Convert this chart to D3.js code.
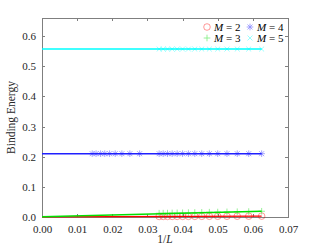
<!DOCTYPE html>
<html lang="en">
<head>
  <meta charset="UTF-8">
  <title>Binding Energy</title>
  <style>
    body { margin: 0; background: #fff; }
    svg text { font-family: "Liberation Serif", "Times New Roman", serif; }
    .axis path, .axis line { stroke: #7f7f7f; shape-rendering: crispEdges; }
    .axis text { fill: #262626; font-size: 11px; }
  </style>
</head>
<body>
<script src="https://cdnjs.cloudflare.com/ajax/libs/d3/7.8.5/d3.min.js"></script>
<script>
  // system sizes L, plotted as 1/L
  var sizes = [16, 17, 18, 19, 20, 21, 22, 23, 24, 25, 26, 27, 28, 29, 30];
  var sizesM4 = [16, 17, 18, 19, 20, 21, 22, 23, 24, 25, 26, 27, 28, 29, 30,
                 36, 40, 44, 48, 52, 56, 60, 65, 70];

  var energyM2 = [0.003, 0.0028, 0.0027, 0.0026, 0.0025, 0.0024, 0.0023, 0.0022,
                  0.0021, 0.0021, 0.002, 0.002, 0.0019, 0.0019, 0.0018];
  var energyM3 = [0.019, 0.018, 0.0175, 0.017, 0.0165, 0.016, 0.0155, 0.015,
                  0.0145, 0.014, 0.0138, 0.0135, 0.013, 0.0128, 0.0125];
  var energyM4 = [0.21, 0.21, 0.21, 0.21, 0.21, 0.21, 0.21, 0.21, 0.21, 0.21, 0.21, 0.21,
                  0.21, 0.21, 0.21, 0.21, 0.21, 0.21, 0.21, 0.21, 0.21, 0.21, 0.21, 0.21];
  var energyM5 = [0.557, 0.557, 0.557, 0.557, 0.557, 0.557, 0.557, 0.557,
                  0.557, 0.557, 0.557, 0.557, 0.557, 0.557, 0.557];

  // extrapolation lines from 1/L = 0 to 1/16
  var fitX = [0, 0.0625];
  var fitM2 = [0.0003, 0.003];
  var fitM3 = [0.001, 0.019];
  var fitM4 = [0.21, 0.21];
  var fitM5 = [0.557, 0.557];

  var xTicks = [0, 0.01, 0.02, 0.03, 0.04, 0.05, 0.06, 0.07];
  var yTicks = [0, 0.1, 0.2, 0.3, 0.4, 0.5, 0.6];

  var W = 319, H = 246;
  var margin = {top: 18, right: 31, bottom: 29, left: 42};
  var width = W - margin.left - margin.right,
      height = H - margin.top - margin.bottom;

  var x = d3.scaleLinear().domain([0, 0.07]).range([0, width]);
  var y = d3.scaleLinear().domain([0, 0.66]).range([height, 0]);

  var svg = d3.select("body").append("svg")
      .attr("width", W).attr("height", H)
      .append("g")
      .attr("transform", "translate(" + margin.left + "," + margin.top + ")");

  // axes (box with inward ticks)
  svg.append("g").attr("class", "axis")
      .attr("transform", "translate(0," + height + ")")
      .call(d3.axisBottom(x).tickValues(xTicks).tickFormat(d3.format(".2f"))
            .tickSizeInner(-3).tickSizeOuter(0).tickPadding(8));
  svg.append("g").attr("class", "axis")
      .call(d3.axisTop(x).tickValues(xTicks).tickFormat("").tickSizeInner(-3).tickSizeOuter(0));
  svg.append("g").attr("class", "axis")
      .call(d3.axisLeft(y).tickValues(yTicks).tickFormat(d3.format(".1f"))
            .tickSizeInner(-3).tickSizeOuter(0).tickPadding(6));
  svg.append("g").attr("class", "axis")
      .attr("transform", "translate(" + width + ",0)")
      .call(d3.axisRight(y).tickValues(yTicks).tickFormat("").tickSizeInner(-3).tickSizeOuter(0));
  svg.selectAll(".axis").attr("font-family", null);

  var line = d3.line().x(function (d) { return x(d[0]); }).y(function (d) { return y(d[1]); });

  var series = [
    {name: "2", color: "#ff0000", marker: "circle", L: sizes, v: energyM2, fit: fitM2},
    {name: "3", color: "#00e000", marker: "plus", L: sizes, v: energyM3, fit: fitM3},
    {name: "4", color: "#2020ff", marker: "star", L: sizesM4, v: energyM4, fit: fitM4},
    {name: "5", color: "#00ffff", marker: "cross", L: sizes, v: energyM5, fit: fitM5}
  ];

  function drawMarker(g, type, cx, cy, color) {
    var s = 3.3;
    if (type === "circle") {
      g.append("circle").attr("cx", cx).attr("cy", cy).attr("r", s)
        .attr("fill", "none").attr("stroke", color).attr("stroke-width", 0.8);
      return;
    }
    var segs = [];
    if (type === "plus" || type === "star") segs.push([-s, 0, s, 0], [0, -s, 0, s]);
    if (type === "cross" || type === "star") {
      var k = s * 0.75;
      segs.push([-k, -k, k, k], [-k, k, k, -k]);
    }
    segs.forEach(function (q) {
      g.append("line").attr("x1", cx + q[0]).attr("y1", cy + q[1])
        .attr("x2", cx + q[2]).attr("y2", cy + q[3])
        .attr("stroke", color).attr("stroke-width", 0.8);
    });
  }

  series.forEach(function (s) {
    svg.append("path")
      .datum(fitX.map(function (xv, i) { return [xv, s.fit[i]]; }))
      .attr("d", line).attr("fill", "none")
      .attr("stroke", s.color).attr("stroke-width", 1.4);
    var mg = svg.append("g").attr("opacity", 0.5);
    s.L.forEach(function (L, i) {
      drawMarker(mg, s.marker, x(1 / L), y(s.v[i]), s.color);
    });
  });

  // legend
  var legend = svg.append("g");
  var cols = [
    [series[0], series[2]],
    [series[1], series[3]]
  ];
  cols.forEach(function (row, r) {
    row.forEach(function (s, c) {
      var lx = 165 + c * 43, ly = 9 + r * 11;
      var mg = legend.append("g").attr("opacity", 0.5);
      drawMarker(mg, s.marker, lx, ly, s.color);
      var t = legend.append("text").attr("x", lx + 7).attr("y", ly + 3.5)
        .attr("font-size", "11px").attr("fill", "#000");
      t.append("tspan").attr("font-style", "italic").text("M");
      t.append("tspan").text(" = " + s.name);
    });
  });

  // axis titles
  var xt = svg.append("text")
    .attr("x", width / 2).attr("y", height + 26)
    .attr("text-anchor", "middle").attr("font-size", "11.5px").attr("fill", "#262626");
  xt.append("tspan").text("1/");
  xt.append("tspan").attr("font-style", "italic").text("L");

  svg.append("text")
    .attr("transform", "translate(" + (-27) + "," + (height / 2) + ") rotate(-90)")
    .attr("text-anchor", "middle").attr("font-size", "11.5px").attr("fill", "#262626")
    .text("Binding Energy");
</script>
</body>
</html>
